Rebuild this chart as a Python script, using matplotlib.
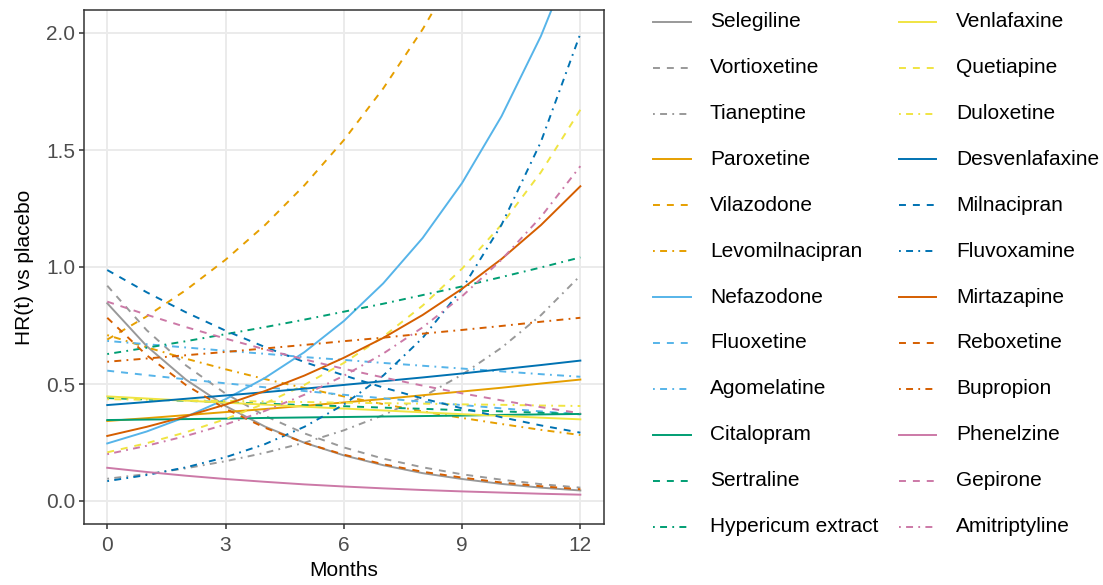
import matplotlib
matplotlib.use("Agg")
import matplotlib.pyplot as plt
from matplotlib.lines import Line2D

plt.rcParams['font.family'] = ['Liberation Sans', 'DejaVu Sans']
plt.rcParams['lines.scale_dashes'] = False

months = [0, 1, 2, 3, 4, 5, 6, 7, 8, 9, 10, 11, 12]

drugs = ["Selegiline", "Vortioxetine", "Tianeptine",
         "Paroxetine", "Vilazodone", "Levomilnacipran",
         "Nefazodone", "Fluoxetine", "Agomelatine",
         "Citalopram", "Sertraline", "Hypericum extract",
         "Venlafaxine", "Quetiapine", "Duloxetine",
         "Desvenlafaxine", "Milnacipran", "Fluvoxamine",
         "Mirtazapine", "Reboxetine", "Bupropion",
         "Phenelzine", "Gepirone", "Amitriptyline"]

selegiline = [0.845, 0.662, 0.518, 0.406, 0.318, 0.249, 0.195, 0.153, 0.119, 0.094, 0.073, 0.057, 0.045]
vortioxetine = [0.920, 0.730, 0.579, 0.459, 0.364, 0.289, 0.229, 0.181, 0.144, 0.114, 0.091, 0.072, 0.057]
tianeptine = [0.095, 0.115, 0.140, 0.170, 0.206, 0.249, 0.302, 0.367, 0.445, 0.540, 0.655, 0.794, 0.963]
paroxetine = [0.342, 0.354, 0.367, 0.380, 0.393, 0.407, 0.421, 0.436, 0.452, 0.468, 0.484, 0.502, 0.519]
vilazodone = [0.690, 0.789, 0.902, 1.031, 1.179, 1.349, 1.542, 1.763, 2.016, 2.305, 2.636, 3.014, 3.446]
levomilnacipran = [0.709, 0.657, 0.608, 0.563, 0.521, 0.483, 0.447, 0.414, 0.383, 0.355, 0.329, 0.304, 0.282]
nefazodone = [0.246, 0.297, 0.360, 0.435, 0.526, 0.636, 0.769, 0.930, 1.124, 1.359, 1.644, 1.987, 2.403]
fluoxetine = [0.557, 0.538, 0.520, 0.503, 0.486, 0.470, 0.454, 0.439, 0.424, 0.410, 0.396, 0.383, 0.370]
agomelatine = [0.684, 0.670, 0.656, 0.642, 0.629, 0.615, 0.603, 0.590, 0.578, 0.566, 0.554, 0.542, 0.531]
citalopram = [0.346, 0.348, 0.350, 0.352, 0.355, 0.357, 0.359, 0.361, 0.363, 0.365, 0.368, 0.370, 0.372]
sertraline = [0.440, 0.434, 0.428, 0.422, 0.416, 0.410, 0.405, 0.399, 0.394, 0.388, 0.383, 0.377, 0.372]
hypericum = [0.628, 0.655, 0.683, 0.713, 0.743, 0.775, 0.809, 0.843, 0.880, 0.917, 0.957, 0.998, 1.041]
venlafaxine = [0.447, 0.438, 0.429, 0.420, 0.412, 0.403, 0.395, 0.387, 0.379, 0.371, 0.364, 0.356, 0.349]
quetiapine = [0.208, 0.247, 0.294, 0.350, 0.417, 0.496, 0.590, 0.702, 0.835, 0.993, 1.181, 1.405, 1.672]
duloxetine = [0.435, 0.433, 0.430, 0.428, 0.425, 0.423, 0.420, 0.418, 0.416, 0.413, 0.411, 0.408, 0.406]
desvenlafaxine = [0.410, 0.423, 0.437, 0.451, 0.465, 0.480, 0.496, 0.512, 0.528, 0.545, 0.563, 0.581, 0.600]
milnacipran = [0.987, 0.892, 0.806, 0.728, 0.658, 0.594, 0.537, 0.485, 0.438, 0.396, 0.358, 0.323, 0.292]
fluvoxamine = [0.085, 0.111, 0.144, 0.187, 0.243, 0.317, 0.412, 0.536, 0.697, 0.907, 1.180, 1.535, 1.997]
mirtazapine = [0.278, 0.317, 0.362, 0.412, 0.470, 0.536, 0.612, 0.697, 0.795, 0.907, 1.034, 1.179, 1.345]
reboxetine = [0.783, 0.623, 0.495, 0.394, 0.313, 0.249, 0.198, 0.157, 0.125, 0.100, 0.079, 0.063, 0.050]
bupropion = [0.595, 0.609, 0.623, 0.637, 0.652, 0.667, 0.683, 0.698, 0.715, 0.731, 0.748, 0.766, 0.783]
phenelzine = [0.142, 0.124, 0.108, 0.094, 0.082, 0.071, 0.062, 0.054, 0.047, 0.041, 0.036, 0.031, 0.027]
gepirone = [0.852, 0.796, 0.743, 0.694, 0.648, 0.605, 0.565, 0.528, 0.493, 0.460, 0.430, 0.401, 0.375]
amitriptyline = [0.200, 0.236, 0.278, 0.327, 0.385, 0.454, 0.535, 0.630, 0.742, 0.875, 1.031, 1.214, 1.431]

series = [selegiline, vortioxetine, tianeptine, paroxetine, vilazodone, levomilnacipran,
          nefazodone, fluoxetine, agomelatine, citalopram, sertraline, hypericum,
          venlafaxine, quetiapine, duloxetine, desvenlafaxine, milnacipran, fluvoxamine,
          mirtazapine, reboxetine, bupropion, phenelzine, gepirone, amitriptyline]

x_ticks = [0, 3, 6, 9, 12]
y_ticks = [0.0, 0.5, 1.0, 1.5, 2.0]

palette = ["#999999", "#E69F00", "#56B4E9", "#009E73",
           "#F0E442", "#0072B2", "#D55E00", "#CC79A7"]
styles = [None, (0, (5.0, 5.0)), (0, (1.3, 3.8, 5.0, 3.8))]

W, H = 1103, 585
fig = plt.figure(figsize=(W / 100, H / 100), dpi=100)
ax = fig.add_axes([83.6 / W, 1 - 524.4 / H, (604 - 83.6) / W, (524.4 - 9.6) / H])

lw = 1.4
for i, (name, vals) in enumerate(zip(drugs, series)):
    color = palette[i // 3]
    st = styles[i % 3]
    if st is None:
        ax.plot(months, vals, color=color, lw=lw, solid_joinstyle='round')
    else:
        ax.plot(months, vals, color=color, lw=lw, linestyle=st)

ax.set_xlim(-0.6, 12.6)
ax.set_ylim(-0.1, 2.1)
ax.set_xticks(x_ticks)
ax.set_yticks(y_ticks)
ax.set_xticklabels([str(v) for v in x_ticks])
ax.set_yticklabels([f"{v:.1f}" for v in y_ticks])
ax.grid(True, color="#EBEBEB", lw=1.4)
ax.set_axisbelow(True)
for sp in ax.spines.values():
    sp.set_color("#333333")
    sp.set_linewidth(1.1)
ax.tick_params(axis='both', colors="#333333", length=3.4, width=1.1,
               labelsize=15, labelcolor="#4D4D4D")
ax.tick_params(axis='x', pad=5)
ax.tick_params(axis='y', pad=2.5)
ax.set_xlabel("Months", fontsize=15, color="black", labelpad=4)
ax.set_ylabel("HR(t) vs placebo", fontsize=15, color="black", labelpad=9)

# legend (two columns)
row0, drow = 21.7, 45.9
cols = [(653, 691, 710), (899, 936, 956)]
for i, name in enumerate(drugs):
    c = i // 12
    r = i % 12
    x0, x1, xt = cols[c]
    y = 1 - (row0 + drow * r) / H
    color = palette[i // 3]
    st = styles[i % 3]
    ln = Line2D([x0 / W, x1 / W], [y, y], transform=fig.transFigure,
                color=color, lw=lw, linestyle='-' if st is None else st)
    fig.add_artist(ln)
    fig.text(xt / W, y, name, fontsize=15, va='center', ha='left', color="black")

fig.savefig("out.png", dpi=100)
